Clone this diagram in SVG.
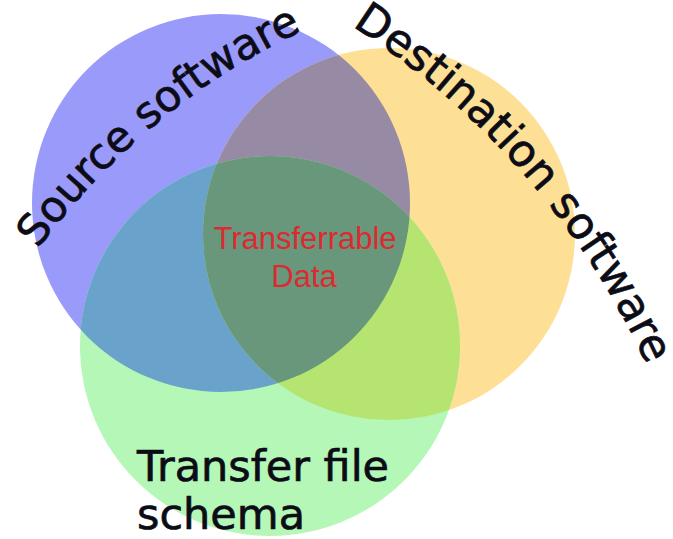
<svg xmlns="http://www.w3.org/2000/svg" width="673" height="539" viewBox="0 0 673 539">
  <style>
    .label { font-family: "DejaVu Sans", "Liberation Sans", sans-serif; fill: #0c0c16; stroke: #0c0c16; stroke-width: 0.7px; }
    .core { font-family: "Liberation Sans", Arial, sans-serif; fill: #dc2a30; font-size: 31px; }
  </style>
  <defs>
    <clipPath id="clipSource"><circle cx="221" cy="203" r="189"/></clipPath>
    <clipPath id="clipDest"><circle cx="389" cy="234" r="186"/></clipPath>
    <!-- baselines for the curved set labels -->
    <path id="arcSource" d="M 38 249 A 700 700 0 0 1 308 28" fill="none"/>
    <path id="arcDest" d="M 352 26 A 800 800 0 0 1 650 372" fill="none"/>
  </defs>

  <rect width="673" height="539" fill="#ffffff"/>

  <!-- the three sets -->
  <g id="source-software">
    <circle cx="221" cy="203" r="189" fill="#9a9afa"/>
  </g>
  <g id="destination-software">
    <circle cx="389" cy="234" r="186" fill="#fedf96"/>
  </g>
  <g id="transfer-file-schema">
    <circle cx="270" cy="346" r="190" fill="#b4f7b6"/>
  </g>

  <!-- pairwise and triple overlaps -->
  <g id="overlaps">
    <circle cx="389" cy="234" r="186" fill="#978aa4" clip-path="url(#clipSource)"/>
    <circle cx="270" cy="346" r="190" fill="#69a2cb" clip-path="url(#clipSource)"/>
    <circle cx="270" cy="346" r="190" fill="#b5e470" clip-path="url(#clipDest)"/>
    <g id="transferrable-data" clip-path="url(#clipSource)">
      <circle cx="270" cy="346" r="190" fill="#68977c" clip-path="url(#clipDest)"/>
    </g>
  </g>

  <!-- labels -->
  <g id="labels">
    <text class="label" font-size="43"><textPath href="#arcSource">Source software</textPath></text>
    <text class="label" font-size="44"><textPath href="#arcDest">Destination software</textPath></text>
    <text class="label" font-size="43" x="137" y="481">Transfer file</text>
    <text class="label" font-size="43" x="137" y="529">schema</text>
    <text class="core" x="305" y="249" text-anchor="middle">Transferrable</text>
    <text class="core" x="304" y="287" text-anchor="middle">Data</text>
  </g>
</svg>
